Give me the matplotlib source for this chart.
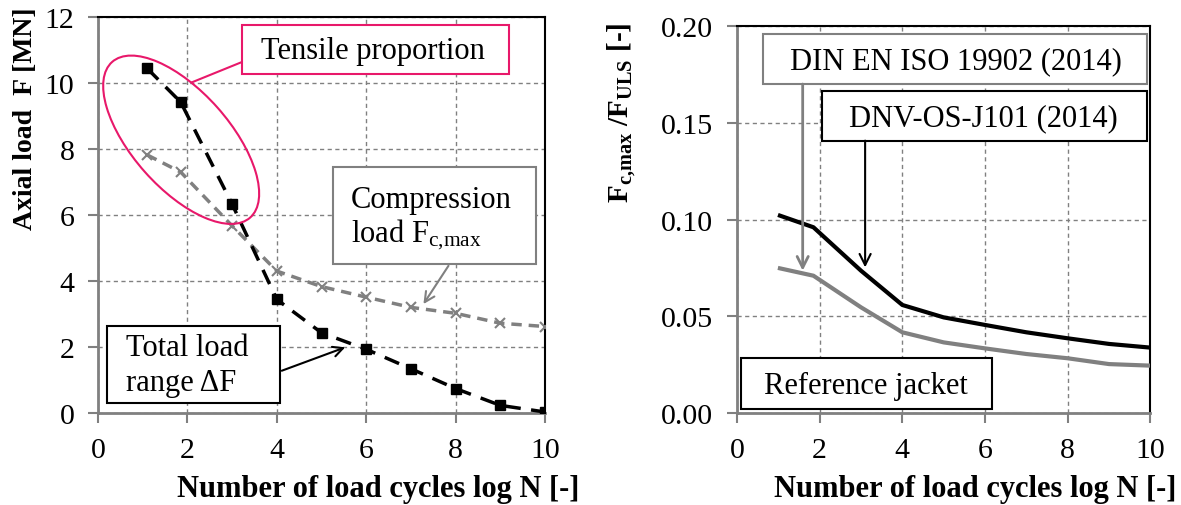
import matplotlib
matplotlib.use("Agg")
import matplotlib.pyplot as plt
import matplotlib.transforms as mtransforms
from matplotlib.patches import Ellipse, Rectangle

plt.rcParams['font.family'] = ['Liberation Serif', 'DejaVu Serif']
plt.rcParams['mathtext.fontset'] = 'custom'
plt.rcParams['mathtext.rm'] = 'Liberation Serif'
plt.rcParams['mathtext.bf'] = 'Liberation Serif:bold'
plt.rcParams['mathtext.it'] = 'Liberation Serif:italic'

# left panel: axial load over log N
log_n = [1.1, 1.85, 3.0, 4.0, 5.0, 6.0, 7.0, 8.0, 9.0, 10.0]
load_range = [10.45, 9.43, 6.34, 3.45, 2.44, 1.94, 1.35, 0.75, 0.24, 0.04]
compression = [7.83, 7.31, 5.68, 4.31, 3.84, 3.52, 3.21, 3.03, 2.73, 2.63]

# right panel: Fc,max / F_ULS
log_n_r = [1.04, 1.85, 3.0, 4.0, 5.0, 6.0, 7.0, 8.0, 9.0, 10.0]
dnv = [0.102, 0.096, 0.0736, 0.0559, 0.0495, 0.0456, 0.0418, 0.0387, 0.0358, 0.0339]
din = [0.0748, 0.071, 0.0547, 0.0418, 0.0366, 0.0335, 0.0306, 0.0284, 0.0254, 0.0246]

GRAY = '#808080'
PINK = '#e8186a'
FS = 22

fig = plt.figure(figsize=(11.81, 5.06), dpi=100)
ax1 = fig.add_axes([0.0830, 0.1812, 0.3785, 0.7826])
ax2 = fig.add_axes([0.6240, 0.1812, 0.3501, 0.7660])


def style_axes(ax):
    ax.grid(True, color=GRAY, linestyle=(0, (3, 2.5)), linewidth=1)
    ax.set_axisbelow(True)
    for s in ['left', 'bottom']:
        ax.spines[s].set_color(GRAY)
        ax.spines[s].set_linewidth(2)
    for s in ['top', 'right']:
        ax.spines[s].set_color('black')
        ax.spines[s].set_linewidth(1.5)
    ax.tick_params(direction='out', length=7, width=1.5, color=GRAY,
                   labelsize=21.5, pad=10)


def box(ax, x0, y0, x1, y1, ec, lw=1.5):
    ax.add_patch(Rectangle((x0, y0), x1 - x0, y1 - y0, facecolor='white',
                           edgecolor=ec, linewidth=lw, zorder=5))


# ---- left panel ----
style_axes(ax1)
ax1.plot(log_n, compression, color=GRAY, linestyle=(0, (3, 2)), linewidth=2.5,
         marker='x', markersize=7, markeredgewidth=1.5, zorder=3)
ax1.plot(log_n, load_range, color='black', linestyle=(0, (4.5, 3)), linewidth=2.5,
         marker='s', markersize=7.5, zorder=4)
ax1.set_xlim(0, 10)
ax1.set_ylim(0, 12)
ax1.set_xticks(range(0, 11, 2))
ax1.set_yticks(range(0, 13, 2))
ax1.set_xlabel('Number of load cycles log N [-]', fontsize=22, fontweight='bold',
               va='baseline')
ax1.xaxis.set_label_coords(0.6275, -0.209)
ax1.set_ylabel('Axial load  F [MN]', fontsize=20, fontweight='bold', va='center', ha='center')
ax1.yaxis.set_label_coords(-0.163, 0.747)

# tensile ellipse (drawn in pixel units around a data point)
trans = fig.dpi_scale_trans + mtransforms.ScaledTranslation(1.86, 8.29, ax1.transData)
ax1.add_patch(Ellipse((0, 0), 2.08, 0.97, angle=-48.4, transform=trans,
                      fill=False, edgecolor=PINK, linewidth=1.5, zorder=6))
ax1.plot([2.10, 3.21], [10.03, 10.64], color=PINK, linewidth=1.5, zorder=6)
box(ax1, 3.21, 10.28, 9.20, 11.77, PINK)
ax1.text(6.16, 11.0, 'Tensile proportion', fontsize=FS, ha='center', va='center', zorder=7)

box(ax1, 5.25, 4.53, 9.80, 7.47, GRAY)
ax1.text(5.66, 6.49, 'Compression', fontsize=FS, ha='left', va='center', zorder=7)
ax1.text(5.66, 5.43, r'load F$_{\mathrm{c{,}max}}$', fontsize=FS, ha='left', va='center', zorder=7)
ax1.annotate('', xy=(7.28, 3.31), xytext=(7.84, 4.47),
             arrowprops=dict(arrowstyle='->', color=GRAY, lw=1.5, mutation_scale=18,
                             shrinkA=0, shrinkB=0), zorder=7)

box(ax1, 0.21, 0.30, 4.07, 2.65, 'black')
ax1.text(0.63, 2.0, 'Total load', fontsize=FS, ha='left', va='center', zorder=7)
ax1.text(0.63, 0.94, 'range \u0394F', fontsize=FS, ha='left', va='center', zorder=7)
ax1.annotate('', xy=(5.53, 2.0), xytext=(4.11, 1.29),
             arrowprops=dict(arrowstyle='->', color='black', lw=1.5, mutation_scale=18,
                             shrinkA=0, shrinkB=0), zorder=7)

# ---- right panel ----
style_axes(ax2)
ax2.plot(log_n_r, din, color=GRAY, linewidth=3, zorder=3)
ax2.plot(log_n_r, dnv, color='black', linewidth=3, zorder=4)
ax2.set_xlim(0, 10)
ax2.set_ylim(0, 0.20)
ax2.set_xticks(range(0, 11, 2))
ax2.set_yticks([0, 0.05, 0.10, 0.15, 0.20])
ax2.set_yticklabels(['0.00', '0.05', '0.10', '0.15', '0.20'])
ax2.set_xlabel('Number of load cycles log N [-]', fontsize=22, fontweight='bold',
               va='baseline')
ax2.xaxis.set_label_coords(0.5756, -0.213)
ax2.set_ylabel(r'F$_{\mathbf{c{,}max}}$ /F$_{\mathbf{ULS}}$ [-]', fontsize=21,
               fontweight='bold', va='center', ha='center')
ax2.yaxis.set_label_coords(-0.279, 0.779)

box(ax2, 0.64, 0.1699, 9.91, 0.1957, GRAY)
ax2.text(5.29, 0.182, 'DIN EN ISO 19902 (2014)', fontsize=FS, ha='center', va='center', zorder=7)
box(ax2, 2.05, 0.1407, 9.91, 0.1665, 'black')
ax2.text(5.97, 0.1527, 'DNV-OS-J101 (2014)', fontsize=FS, ha='center', va='center', zorder=7)
box(ax2, 0.11, 0.0022, 6.16, 0.0284, 'black')
ax2.text(3.13, 0.0142, 'Reference jacket', fontsize=FS, ha='center', va='center', zorder=7)

ax2.annotate('', xy=(1.59, 0.0736), xytext=(1.59, 0.1699),
             arrowprops=dict(arrowstyle='->', color=GRAY, lw=2, mutation_scale=20,
                             shrinkA=0, shrinkB=0), zorder=7)
ax2.annotate('', xy=(3.10, 0.0753), xytext=(3.10, 0.1407),
             arrowprops=dict(arrowstyle='->', color='black', lw=1.5, mutation_scale=20,
                             shrinkA=0, shrinkB=0), zorder=7)

fig.savefig('out.png', dpi=100)
